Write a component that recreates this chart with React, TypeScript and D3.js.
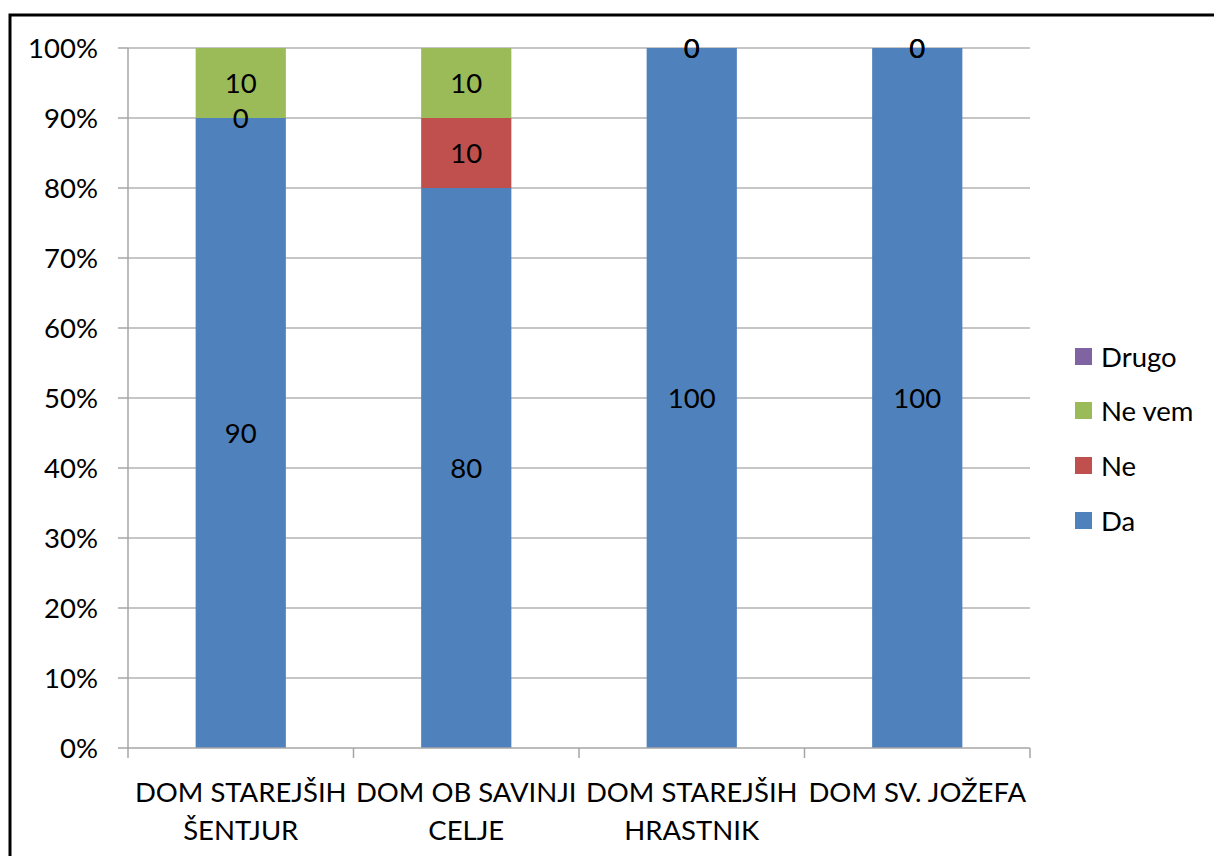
import React, { useEffect, useRef } from 'react'
import * as d3 from 'd3'

const categories = [['DOM STAREJŠIH', 'ŠENTJUR'], ['DOM OB SAVINJI', 'CELJE'], ['DOM STAREJŠIH', 'HRASTNIK'], ['DOM SV. JOŽEFA']]
const seriesNames = ['Da', 'Ne', 'Ne vem', 'Drugo']
const da = [90, 80, 100, 100]
const ne = [0, 10, 0, 0]
const neVem = [10, 10, 0, 0]
const drugo = [null, null, null, null]
const yTicks = [0, 0.1, 0.2, 0.3, 0.4, 0.5, 0.6, 0.7, 0.8, 0.9, 1]
const colors = ['#4f81bd', '#c0504d', '#9bbb59', '#8064a2']

const App = () => {
  const ref = useRef(null)

  useEffect(() => {
    const svg = d3.select(ref.current)
    svg.selectAll('*').remove()
    const font = 'Lato, "Open Sans", sans-serif'
    const fs = 27.5

    const left = 128, right = 1030, top = 48, bottom = 748
    const x = d3.scaleBand().domain(d3.range(categories.length).map(String)).range([left, right]).paddingInner(0.6).paddingOuter(0.3)
    const y = d3.scaleLinear().domain([0, 1]).range([bottom, top])

    // frame
    svg.append('path').attr('d', 'M10,856 L10,15 L1214,15').attr('fill', 'none').attr('stroke', '#000').attr('stroke-width', 3)

    // gridlines
    svg.append('g').selectAll('line').data(yTicks.slice(1)).join('line')
      .attr('x1', left).attr('x2', right)
      .attr('y1', d => y(d)).attr('y2', d => y(d))
      .attr('stroke', '#b3b3b3').attr('stroke-width', 1.5)

    const series = [da, ne, neVem, drugo]
    const rows = categories.map((c, i) => {
      const vals = series.map(s => s[i])
      const total = d3.sum(vals, v => v ?? 0)
      return vals.map(v => (v ?? 0) / total)
    })

    series.forEach((s, si) => {
      const g = svg.append('g')
      rows.forEach((r, ci) => {
        const y0 = d3.sum(r.slice(0, si))
        const y1 = y0 + r[si]
        if (r[si] > 0) {
          g.append('rect')
            .attr('x', x(String(ci)))
            .attr('width', x.bandwidth())
            .attr('y', y(y1))
            .attr('height', y(y0) - y(y1))
            .attr('fill', colors[si])
        }
      })
    })

    // data labels
    series.forEach((s, si) => {
      rows.forEach((r, ci) => {
        if (s[ci] === null) return
        const y0 = d3.sum(r.slice(0, si))
        const y1 = y0 + r[si]
        svg.append('text')
          .attr('x', x(String(ci)) + x.bandwidth() / 2)
          .attr('y', y((y0 + y1) / 2))
          .attr('dy', '0.36em')
          .attr('text-anchor', 'middle')
          .attr('font-family', font).attr('font-size', fs)
          .attr('fill', '#000')
          .text(String(s[ci]))
      })
    })

    // y axis
    const yAxis = svg.append('g')
    yAxis.append('line').attr('x1', left).attr('x2', left).attr('y1', top).attr('y2', bottom).attr('stroke', '#a6a6a6').attr('stroke-width', 1.5)
    yTicks.forEach(t => {
      yAxis.append('line').attr('x1', left - 10).attr('x2', left).attr('y1', y(t)).attr('y2', y(t)).attr('stroke', '#a6a6a6').attr('stroke-width', 1.5)
      yAxis.append('text').attr('x', left - 30).attr('y', y(t)).attr('dy', '0.36em')
        .attr('text-anchor', 'end').attr('font-family', font).attr('font-size', fs).attr('fill', '#000')
        .text(d3.format('.0%')(t))
    })

    // x axis
    const xAxis = svg.append('g')
    xAxis.append('line').attr('x1', left).attr('x2', right).attr('y1', bottom).attr('y2', bottom).attr('stroke', '#a6a6a6').attr('stroke-width', 1.5)
    d3.range(categories.length + 1).forEach(i => {
      const tx = left + i * (right - left) / categories.length
      xAxis.append('line').attr('x1', tx).attr('x2', tx).attr('y1', bottom).attr('y2', bottom + 10).attr('stroke', '#a6a6a6').attr('stroke-width', 1.5)
    })
    categories.forEach((lines, ci) => {
      const cx = x(String(ci)) + x.bandwidth() / 2
      const t = xAxis.append('text').attr('text-anchor', 'middle').attr('font-family', font).attr('font-size', fs).attr('fill', '#000')
      lines.forEach((ln, li) => {
        t.append('tspan').attr('x', cx).attr('y', 802 + li * 38).text(ln)
      })
    })

    // legend
    const legendY = [521, 466, 411, 357]
    const lg = svg.append('g')
    seriesNames.forEach((n, i) => {
      lg.append('rect').attr('x', 1075).attr('y', legendY[i] - 9).attr('width', 17).attr('height', 17).attr('fill', colors[i])
      lg.append('text').attr('x', 1101).attr('y', legendY[i]).attr('dy', '0.36em')
        .attr('font-family', font).attr('font-size', fs).attr('fill', '#000').text(n)
    })
  }, [])

  return (
    <svg ref={ref} width={1214} height={856} style={{ position: 'absolute', left: 0, top: 0, background: '#fff' }} />
  )
}

export default App
